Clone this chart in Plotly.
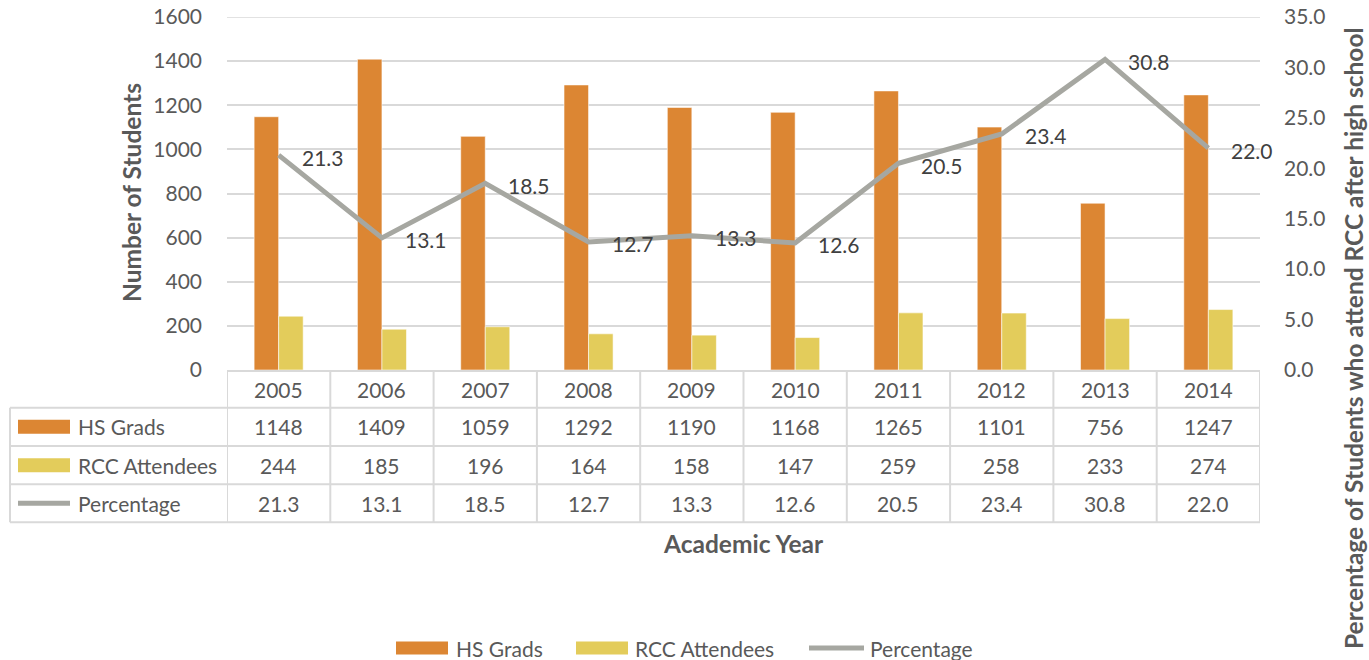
import plotly.graph_objects as go

# ---------------- data ----------------
years = ["2005", "2006", "2007", "2008", "2009", "2010", "2011", "2012", "2013", "2014"]
hs_grads = [1148, 1409, 1059, 1292, 1190, 1168, 1265, 1101, 756, 1247]
rcc_attendees = [244, 185, 196, 164, 158, 147, 259, 258, 233, 274]
percentage = [21.3, 13.1, 18.5, 12.7, 13.3, 12.6, 20.5, 23.4, 30.8, 22.0]
left_ticks = [0, 200, 400, 600, 800, 1000, 1200, 1400, 1600]
right_ticks = [0, 5, 10, 15, 20, 25, 30, 35]
series_names = ["HS Grads", "RCC Attendees", "Percentage"]

# ---------------- style ----------------
ORANGE = "#DC8633"
YELLOW = "#E3CC5B"
GRAY = "#A6A7A1"
TEXT = "#595959"
LABEL = "#404040"
GRID = "#D9D9D9"
FONT = "Lato"
FS = 21
TFS = 24.5

W, H = 1369, 660
# plot area in window pixels
L, R, T, B = 227, 1260, 17, 370


def px(x):
    return (x - L) / (R - L)


def py(y):
    return (B - y) / (B - T)


fig = go.Figure()
fig.add_trace(go.Bar(x=years, y=hs_grads, name=series_names[0],
                     marker=dict(color=ORANGE, line=dict(color="rgba(255,255,255,0.7)", width=0.8))))
fig.add_trace(go.Bar(x=years, y=rcc_attendees, name=series_names[1],
                     marker=dict(color=YELLOW, line=dict(color="rgba(255,255,255,0.7)", width=0.8))))
fig.add_trace(go.Scatter(x=years, y=percentage, name=series_names[2], yaxis="y2",
                         mode="lines", line=dict(color=GRAY, width=5)))

annotations = []
shapes = []

# top gridline (plotly skips grid lines at the range edge)
shapes.append(dict(type="line", xref="paper", yref="y", x0=0, x1=1,
                   y0=left_ticks[-1], y1=left_ticks[-1], line=dict(color=GRID, width=1.5),
                   layer="below"))

# data labels for the line
for i, p in enumerate(percentage):
    annotations.append(dict(x=i, y=p, xref="x", yref="y2", text=f"{p:.1f}",
                            xanchor="left", yanchor="middle", xshift=21, yshift=-2,
                            showarrow=False, font=dict(family=FONT, size=FS, color=LABEL)))

# ---------------- data table ----------------
row_tops = [371, 407.7, 446, 484.3, 522.3]
row_centers = [(row_tops[k] + row_tops[k + 1]) / 2 for k in range(4)]
line_style = dict(color=GRID, width=2)
n = len(years)

# horizontal lines
shapes.append(dict(type="line", xref="x", yref="paper", x0=-0.5, x1=n - 0.5,
                   y0=py(row_tops[0]), y1=py(row_tops[0]), line=line_style))
for yt in row_tops[1:]:
    shapes.append(dict(type="line", xref="paper", yref="paper", x0=px(10), x1=1,
                       y0=py(yt), y1=py(yt), line=line_style))
# vertical lines
for i in range(n + 1):
    shapes.append(dict(type="line", xref="x", yref="paper", x0=i - 0.5, x1=i - 0.5,
                       y0=py(row_tops[0]), y1=py(row_tops[-1]), line=line_style))
shapes.append(dict(type="line", xref="paper", yref="paper", x0=px(10), x1=px(10),
                   y0=py(row_tops[1]), y1=py(row_tops[-1]), line=line_style))

rows = [years, [str(v) for v in hs_grads], [str(v) for v in rcc_attendees],
        [f"{v:.1f}" for v in percentage]]
for r, vals in enumerate(rows):
    for i, v in enumerate(vals):
        annotations.append(dict(x=i, y=py(row_centers[r]), xref="x", yref="paper", text=v,
                                showarrow=False, xanchor="center", yanchor="middle",
                                font=dict(family=FONT, size=FS, color=TEXT)))

# left column keys and labels
key_colors = [ORANGE, YELLOW]
for k in range(2):
    yc = row_centers[k + 1]
    shapes.append(dict(type="rect", xref="paper", yref="paper", x0=px(18), x1=px(70),
                       y0=py(yc - 7), y1=py(yc + 7), fillcolor=key_colors[k], line=dict(width=0)))
shapes.append(dict(type="line", xref="paper", yref="paper", x0=px(18), x1=px(70),
                   y0=py(row_centers[3]), y1=py(row_centers[3]), line=dict(color=GRAY, width=5)))
for k in range(3):
    annotations.append(dict(x=px(76), y=py(row_centers[k + 1]), xref="paper", yref="paper",
                            text=series_names[k], showarrow=False, xanchor="left", yanchor="middle",
                            font=dict(family=FONT, size=FS, color=TEXT)))

# ---------------- bottom legend ----------------
LY = 648
leg_keys = [(396, 448, 454), (576, 628, 633), (809, 864, 868)]
for k, (x0, x1, xt) in enumerate(leg_keys):
    if k < 2:
        shapes.append(dict(type="rect", xref="paper", yref="paper", x0=px(x0), x1=px(x1),
                           y0=py(LY - 6.5), y1=py(LY + 6.5), fillcolor=key_colors[k], line=dict(width=0)))
    else:
        shapes.append(dict(type="line", xref="paper", yref="paper", x0=px(x0), x1=px(x1),
                           y0=py(LY), y1=py(LY), line=dict(color=GRAY, width=5)))
    annotations.append(dict(x=px(xt), y=py(LY), xref="paper", yref="paper", text=series_names[k],
                            showarrow=False, xanchor="left", yanchor="middle",
                            font=dict(family=FONT, size=FS, color=TEXT)))

# ---------------- axis titles ----------------
title_font = dict(family=FONT, size=TFS, color=TEXT)
annotations.append(dict(x=px(131), y=py(193), xref="paper", yref="paper",
                        text="<b>Number of Students</b>", textangle=-90, showarrow=False,
                        xanchor="center", yanchor="middle", font=title_font))
annotations.append(dict(x=px(743), y=py(543), xref="paper", yref="paper",
                        text="<b>Academic Year</b>", showarrow=False,
                        xanchor="center", yanchor="middle", font=title_font))
annotations.append(dict(x=px(1353), y=py(338), xref="paper", yref="paper",
                        text="<b>Percentage of Students who attend RCC after high school</b>",
                        textangle=-90, showarrow=False, xanchor="center", yanchor="middle",
                        font=title_font))

fig.update_layout(
    width=W, height=H, autosize=False,
    margin=dict(l=L, r=W - R, t=T, b=H - B, pad=0, autoexpand=False),
    paper_bgcolor="white", plot_bgcolor="white",
    barmode="group", bargap=0.525, bargroupgap=0,
    showlegend=False,
    font=dict(family=FONT, size=FS, color=TEXT),
    xaxis=dict(type="category", range=[-0.5, n - 0.5], showticklabels=False,
               showgrid=False, zeroline=False, showline=False, ticks="", automargin=False),
    yaxis=dict(range=[0, 1600], tickvals=left_ticks, ticktext=[str(v) for v in left_ticks],
               showgrid=True, gridcolor=GRID, gridwidth=1.5, zeroline=False, showline=False,
               ticks="", ticklabelstandoff=24, automargin=False, ticklabeloverflow="allow",
               tickfont=dict(family=FONT, size=FS, color=TEXT)),
    yaxis2=dict(range=[0, 35], overlaying="y", side="right", tickvals=right_ticks,
                ticktext=[f"{v:.1f}" for v in right_ticks], showgrid=False, zeroline=False,
                showline=False, ticks="", ticklabelstandoff=23, automargin=False,
                ticklabeloverflow="allow",
                tickfont=dict(family=FONT, size=FS, color=TEXT)),
    annotations=annotations,
    shapes=shapes,
)

fig.write_html(
    "out.html",
    config={"displayModeBar": False},
    post_script="document.body.style.margin='0';document.body.style.padding='0';"
                "document.documentElement.style.overflow='hidden';",
)
